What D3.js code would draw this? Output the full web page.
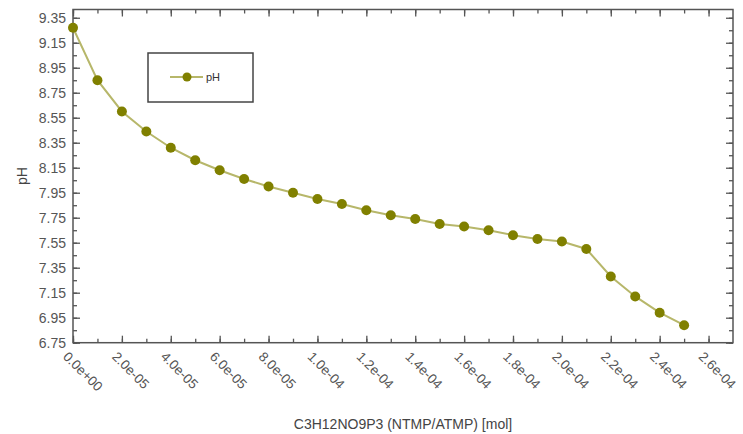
<!DOCTYPE html>
<html>
<head>
<meta charset="utf-8">
<script src="https://cdn.jsdelivr.net/npm/d3@7"></script>
<style>
  body { margin: 0; background: #fff; }
  text { font-family: "Liberation Sans", Arial, sans-serif; }
</style>
</head>
<body>
<div id="chart"></div>
<script>
const width = 743;
const height = 434;

// data
const amounts = d3.range(26).map(i => i * 1e-5);
const phValues = [9.27, 8.85, 8.60, 8.44, 8.31, 8.21, 8.13, 8.06, 8.00, 7.95,
  7.90, 7.86, 7.81, 7.77, 7.74, 7.70, 7.68, 7.65, 7.61, 7.58,
  7.56, 7.50, 7.28, 7.12, 6.99, 6.89];
const xTicks = d3.range(14).map(i => i * 2e-5);
const xTickLabels = ["0.0e+00", "2.0e-05", "4.0e-05", "6.0e-05", "8.0e-05", "1.0e-04", "1.2e-04",
  "1.4e-04", "1.6e-04", "1.8e-04", "2.0e-04", "2.2e-04", "2.4e-04", "2.6e-04"];
const yTicks = [6.75, 6.95, 7.15, 7.35, 7.55, 7.75, 7.95, 8.15, 8.35, 8.55, 8.75, 8.95, 9.15, 9.35];
const yTickLabels = yTicks.map(d => d.toFixed(2));
const seriesName = "pH";

const margin = { left: 73, right: 10, top: 9.5, bottom: 91.3 };
const plotW = width - margin.left - margin.right;
const plotH = height - margin.top - margin.bottom;

const lineColor = "#b7b76a";
const markColor = "#808000";
const axisColor = "#555";

const svg = d3.select("#chart").append("svg")
  .attr("width", width)
  .attr("height", height);

const g = svg.append("g").attr("transform", `translate(${margin.left},${margin.top})`);

const x = d3.scaleLinear().domain([0, 2.7e-4]).range([0, plotW]);
const y = d3.scaleLinear().domain([6.75, 9.416]).range([plotH, 0]);

const xMinor = d3.range(27).map(i => i * 1e-5);
const yMinor = d3.range(27).map(i => 6.75 + i * 0.1);

// minor ticks on all four sides, pointing inward
const minor = (axis) => axis.tickFormat("").tickSizeOuter(0);
g.append("g").attr("transform", `translate(0,${plotH})`)
  .call(minor(d3.axisBottom(x).tickValues(xMinor).tickSize(-4)));
g.append("g")
  .call(minor(d3.axisTop(x).tickValues(xMinor).tickSize(-4)));
g.append("g")
  .call(minor(d3.axisLeft(y).tickValues(yMinor).tickSize(-4)));
g.append("g").attr("transform", `translate(${plotW},0)`)
  .call(minor(d3.axisRight(y).tickValues(yMinor).tickSize(-4)));

// major ticks
g.append("g").attr("transform", `translate(0,${plotH})`)
  .call(d3.axisBottom(x).tickValues(xTicks).tickSize(-7).tickFormat("").tickSizeOuter(0));
g.append("g")
  .call(d3.axisTop(x).tickValues(xTicks).tickSize(-7).tickFormat("").tickSizeOuter(0));
g.append("g")
  .call(d3.axisLeft(y).tickValues(yTicks).tickSize(-7).tickFormat((d, i) => yTickLabels[i]).tickSizeOuter(0))
  .call(a => a.selectAll("text")
    .attr("x", -7)
    .attr("dy", "0.36em")
    .style("font-size", "14px")
    .attr("fill", axisColor));
g.append("g").attr("transform", `translate(${plotW},0)`)
  .call(d3.axisRight(y).tickValues(yTicks).tickSize(-7).tickFormat("").tickSizeOuter(0));

g.selectAll(".domain").remove();
g.selectAll(".tick line").attr("stroke", axisColor).attr("stroke-width", 1.3);

// frame
g.append("rect")
  .attr("width", plotW)
  .attr("height", plotH)
  .attr("fill", "none")
  .attr("stroke", axisColor)
  .attr("stroke-width", 1.5);

// rotated x labels
g.append("g").selectAll("text")
  .data(xTicks)
  .join("text")
  .attr("transform", d => `translate(${x(d) - 4},${plotH + 8}) rotate(45)`)
  .attr("dy", "0.7em")
  .style("font-size", "13.5px")
  .attr("fill", axisColor)
  .text((d, i) => xTickLabels[i]);

// series
const line = d3.line().x((d, i) => x(amounts[i])).y(d => y(d));
g.append("path")
  .datum(phValues)
  .attr("d", line)
  .attr("fill", "none")
  .attr("stroke", lineColor)
  .attr("stroke-width", 2);

g.append("g").selectAll("circle")
  .data(phValues)
  .join("circle")
  .attr("cx", (d, i) => x(amounts[i]))
  .attr("cy", d => y(d))
  .attr("r", 5)
  .attr("fill", markColor);

// axis titles
svg.append("text")
  .attr("x", margin.left + plotW / 2)
  .attr("y", 429)
  .attr("text-anchor", "middle")
  .style("font-size", "14px")
  .attr("fill", "#444")
  .text("C3H12NO9P3 (NTMP/ATMP) [mol]");

svg.append("text")
  .attr("transform", `translate(27,176) rotate(-90)`)
  .attr("text-anchor", "middle")
  .style("font-size", "14px")
  .attr("fill", "#444")
  .text("pH");

// legend
const legend = svg.append("g").attr("transform", "translate(148,53)");
legend.append("rect")
  .attr("width", 105)
  .attr("height", 49)
  .attr("fill", "#fff")
  .attr("stroke", "#444")
  .attr("stroke-width", 1.5);
legend.append("line")
  .attr("x1", 22).attr("x2", 55)
  .attr("y1", 24).attr("y2", 24)
  .attr("stroke", lineColor)
  .attr("stroke-width", 2);
legend.append("circle")
  .attr("cx", 39).attr("cy", 24).attr("r", 4.5)
  .attr("fill", markColor);
legend.append("text")
  .attr("x", 58).attr("y", 28)
  .style("font-size", "11px")
  .attr("fill", "#333")
  .text(seriesName);
</script>
</body>
</html>
